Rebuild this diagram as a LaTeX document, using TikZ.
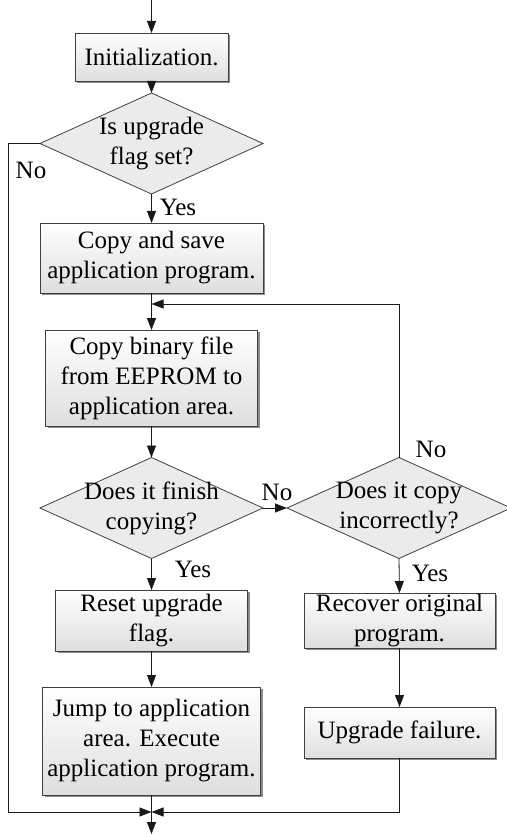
\documentclass[tikz,border=0pt]{standalone}
\usepackage{fontspec}
\setmainfont{Liberation Serif}
\usetikzlibrary{shapes.geometric,arrows.meta,shadows}
\begin{document}
\begin{tikzpicture}[x=1pt,y=-1pt,
  line width=0.8pt,
  >={Triangle[length=12pt,width=9pt]},
  txt/.style={font=\fontsize{25}{30}\selectfont},
  box/.style={txt, draw=black!75, top color=white, bottom color=black!13,
    drop shadow={shadow xshift=2pt,shadow yshift=-2pt,fill=black!45,opacity=1},
    inner sep=0pt, outer sep=0pt, align=center},
  dia/.style={draw=black!75, fill=black!8, diamond, inner sep=0pt, outer sep=0pt},
  dtext/.style={txt, align=center, inner sep=0pt},
  lab/.style={txt, inner sep=0pt},
  conn/.style={draw=black!90}
]
\useasboundingbox (0,0) rectangle (506,834);

% nodes
\coordinate (start) at (151.5,0);
\node[box, minimum width=153pt, minimum height=48pt] (init) at (151.5,57) {Initialization.};
\node[dia, minimum width=223pt, minimum height=101pt] (d1) at (151.5,143.5) {};
\node[dtext] (d1t) at (151.5,144) {Is upgrade\\flag set?};
\node[box, minimum width=223pt, minimum height=70pt] (copy) at (151.5,258) {Copy and save\\application program.};
\coordinate (m1) at (151.5,304);
\node[box, minimum width=212pt, minimum height=96pt] (bin) at (151.5,378) {Copy binary file\\from EEPROM to\\application area.};
\node[dia, minimum width=223pt, minimum height=101pt] (d2) at (151.5,508) {};
\node[dtext] (d2t) at (151.5,508) {Does it finish\\copying?};
\node[dia, minimum width=224pt, minimum height=101pt] (d3) at (399,508) {};
\node[dtext] (d3t) at (399,508) {Does it copy\\incorrectly?};
\node[box, minimum width=192pt, minimum height=61pt] (reset) at (151.5,620.5) {Reset upgrade\\flag.};
\node[box, minimum width=218pt, minimum height=108pt] (jump) at (151.5,741) {Jump to application\\area. Execute\\application program.};
\node[box, minimum width=191pt, minimum height=55pt] (recov) at (399.5,620.5) {Recover original\\program.};
\node[box, minimum width=191pt, minimum height=51pt] (fail) at (399.5,732.5) {Upgrade failure.};
\coordinate (m2) at (151.5,812);
\coordinate (end) at (151.5,834);
\coordinate (lft) at (8,143.5);
\coordinate (lftb) at (8,812);
\coordinate (rgt) at (399.5,812);
\coordinate (top3) at (399,304);

% connectors
\draw[conn,->] (start) -- (init.north);
\draw[conn,->] (init.south) -- (d1.north);
\draw[conn,->] (d1.south) -- (copy.north);
\draw[conn] (copy.south) -- (m1);
\draw[conn,->] (m1) -- (bin.north);
\draw[conn,->] (bin.south) -- (d2.north);
\draw[conn,->] (d2.east) -- (d3.west);
\draw[conn,->] (d3.north) -- (top3) -- (m1);
\draw[conn,->] (d2.south) -- (reset.north);
\draw[conn,->] (reset.south) -- (jump.north);
\draw[conn,->] (d3.south) -- (recov.north);
\draw[conn,->] (recov.south) -- (fail.north);
\draw[conn,->] (jump.south) -- (end);
\draw[conn,->] (d1.west) -- (lft) -- (lftb) -- (m2);
\draw[conn,->] (fail.south) -- (rgt) -- (m2);

% labels
\node[lab] (l1) at (31,170) {No};
\node[lab] (l2) at (178,207) {Yes};
\node[lab] (l3) at (277,492) {No};
\node[lab] (l4) at (431,449) {No};
\node[lab] (l5) at (193,569) {Yes};
\node[lab] (l6) at (430,573) {Yes};
\end{tikzpicture}
\end{document}
